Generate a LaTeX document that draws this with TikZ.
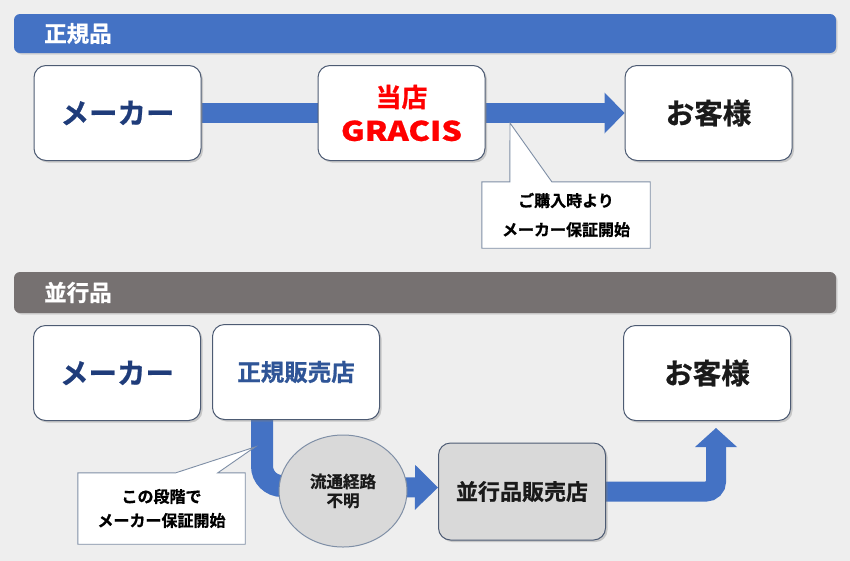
\documentclass[tikz,border=0pt]{standalone}
\usepackage{fontspec}
\setmainfont{Noto Sans CJK JP}[BoldFont={Noto Sans CJK JP Bold}, BoldFeatures={FakeBold=0.8}]
\newfontfamily\widefont{Noto Sans CJK JP Bold}[FakeStretch=1.2, FakeBold=0.8]
\usetikzlibrary{shapes.geometric,shadows,arrows.meta}
\definecolor{bgc}{HTML}{EEEEEE}
\definecolor{barblue}{HTML}{4472C4}
\definecolor{bargray}{HTML}{767171}
\definecolor{boxline}{HTML}{4D5B73}
\definecolor{navy}{HTML}{1F3C7A}
\definecolor{zkblue}{HTML}{2F5597}
\definecolor{callline}{HTML}{7F8FA6}
\definecolor{lgray}{HTML}{D9D9D9}
\definecolor{gracisred}{HTML}{FF0000}
\definecolor{darktext}{HTML}{1A1A1A}
\pgfdeclarelayer{back}
\pgfdeclarelayer{bands}
\pgfdeclarelayer{call}
\pgfsetlayers{back,bands,call,main}
\tikzset{
  banner/.style={rectangle, rounded corners=6pt, minimum width=822pt, inner sep=0pt,
    drop shadow={shadow xshift=1.5pt, shadow yshift=-1.5pt, opacity=0.25, fill=gray}},
  bantext/.style={font=\bfseries\fontsize{22.5}{22.5}\selectfont, text=white, inner sep=0pt},
  box/.style={rectangle, rounded corners=12pt, draw=boxline, line width=1pt, fill=white,
    minimum width=167pt, minimum height=95pt, inner sep=0pt, align=center,
    drop shadow={shadow xshift=2pt, shadow yshift=-2pt, opacity=0.35, fill=gray}},
  calltext/.style={rectangle, inner sep=0pt, align=center, text=black,
    font=\bfseries\fontsize{16}{29}\selectfont},
  callout/.style={fill=white, draw=callline, line width=0.9pt, line join=miter},
  band/.style={line width=20pt, draw=barblue},
}
\begin{document}
\begin{tikzpicture}[x=1pt,y=-1pt]
\useasboundingbox (0,0) rectangle (850,560);
\begin{pgfonlayer}{back}
\fill[bgc] (-3,-3) rectangle (853,563);
\end{pgfonlayer}

% ---------- row 1 ----------
\node[banner, fill=barblue, minimum height=39pt] (ban1) at (425,33.5) {};
\node[bantext, anchor=west] (ban1t) at (44,33.5) {正規品};

\node[box, text=navy, font=\bfseries\fontsize{28.5}{28.5}\selectfont] (maker1) at (117.5,113) {メーカー};
\node[box, text=gracisred, font=\bfseries\fontsize{26}{34}\selectfont] (gracis) at (401.5,113) {当店\\{\widefont\fontsize{27}{34}\selectfont GRACIS}};
\node[box, text=darktext, font=\bfseries\fontsize{28.5}{28.5}\selectfont] (cust1) at (708.5,113) {お客様};

\node[calltext, minimum width=168pt, minimum height=66pt] (call1) at (566,215) {ご購入時より\\メーカー保証開始};
\coordinate (tip1) at (510,123);

\begin{pgfonlayer}{bands}
\draw[band] (maker1.east) -- (gracis.west);
\draw[band, -{Triangle[length=20pt,width=41pt,line width=0pt]}] (gracis.east) -- (cust1.west);
\end{pgfonlayer}
\begin{pgfonlayer}{call}
\draw[callout] (call1.north west) -- ([xshift=28pt]call1.north west) -- (tip1)
  -- ([xshift=70pt]call1.north west) -- (call1.north east) -- (call1.south east)
  -- (call1.south west) -- cycle;
\end{pgfonlayer}

% ---------- row 2 ----------
\node[banner, fill=bargray, minimum height=41pt] (ban2) at (425,292.5) {};
\node[bantext, anchor=west] (ban2t) at (44,292.5) {並行品};

\node[box, text=navy, font=\bfseries\fontsize{28.5}{28.5}\selectfont] (maker2) at (117,373) {メーカー};
\node[box, text=zkblue, font=\bfseries\fontsize{23.5}{23.5}\selectfont] (zk) at (296,372) {正規販売店};
\node[box, text=darktext, font=\bfseries\fontsize{28.5}{28.5}\selectfont] (cust2) at (707,373) {お客様};

\node[ellipse, fill=lgray, draw=callline, line width=1pt, minimum width=128pt, minimum height=112pt,
  inner sep=0pt, align=center, text=darktext, font=\bfseries\fontsize{16.5}{19}\selectfont] (circ) at (343,491) {流通経路\\不明};
\node[box, fill=lgray, text=darktext, minimum height=97pt, font=\bfseries\fontsize{22}{22}\selectfont] (store) at (522,491.5) {並行品販売店};

\node[calltext, minimum width=167pt, minimum height=71pt, font=\bfseries\fontsize{16}{24}\selectfont] (call2) at (161.5,508.5) {この段階で\\メーカー保証開始};
\coordinate (tip2) at (255,447);
\coordinate (tip3) at (716,428);

\begin{pgfonlayer}{bands}
\draw[band, line width=22pt, rounded corners=20pt] ([xshift=-34pt]zk.south) |- ([yshift=5pt]circ.center);
\draw[band, -{Triangle[length=23pt,width=45pt,line width=0pt]}] ([yshift=4pt]circ.center) -- ([yshift=4pt]store.west);
\draw[band, rounded corners=10pt, -{Triangle[length=19pt,width=42pt,line width=0pt]}] (store.east) -- (store.east -| tip3) -- (tip3);
\end{pgfonlayer}
\begin{pgfonlayer}{call}
\draw[callout] (call2.north west) -- ([xshift=98pt]call2.north west) -- (tip2)
  -- ([xshift=140pt]call2.north west) -- (call2.north east) -- (call2.south east)
  -- (call2.south west) -- cycle;
\end{pgfonlayer}
\end{tikzpicture}
\end{document}
